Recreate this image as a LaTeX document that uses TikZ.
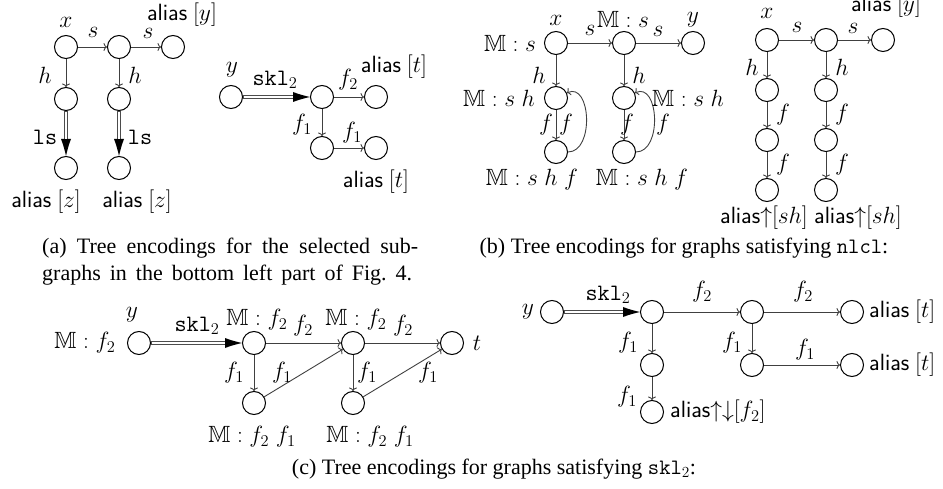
\RequirePackage{fix-cm}
\documentclass[tikz,border=0pt]{standalone}
\usepackage{amssymb}
\usepackage{fontspec}
\setmainfont{Liberation Serif}
\usetikzlibrary{arrows.meta}
\newcommand{\al}{\textsf{alias}}
\begin{document}
\begin{tikzpicture}[x=1pt,y=1pt,
  font=\fontsize{23.5}{27}\selectfont,
  st/.style={circle,draw,line width=1pt,minimum size=23pt,inner sep=0pt},
  lb/.style={inner sep=0pt},
  captxt/.style={inner sep=0pt,font=\fontsize{22}{26}\selectfont},
  ed/.style={line width=0.9pt,draw=black!75,-{To[length=3.5pt,width=8pt]}},
  dblout/.style={line width=4.4pt,draw=black!70,-{Latex[length=17pt,width=10pt,line width=0pt,black]}},
  dblin/.style={line width=2.2pt,draw=white,shorten >=17pt,shorten <=0.8pt}]
\useasboundingbox (0,0) rectangle (943,-489);
% ---------- (a) left tree
\node[st] (a1) at (66,-47) {};
\node[st] (a2) at (119,-47) {};
\node[st] (a3) at (173,-47) {};
\node[st] (a4) at (66,-99) {};
\node[st] (a5) at (119,-99) {};
\node[st] (a6) at (66,-168) {};
\node[st] (a7) at (119,-168) {};
\draw[ed] (a1) -- (a2);
\draw[ed] (a2) -- (a3);
\draw[ed] (a1) -- (a4);
\draw[ed] (a2) -- (a5);
\draw[dblout] (a4) -- (a6); \draw[dblin] (a4) -- (a6);
\draw[dblout] (a5) -- (a7); \draw[dblin] (a5) -- (a7);
\node[lb] (la1) at (66,-22) {$x$};
\node[lb] (la2) at (93,-32) {$s$};
\node[lb] (la3) at (148,-33) {$s$};
\node[lb] (la4) at (182,-15) {\al\ $[y]$};
\node[lb] (la5) at (45,-75) {$h$};
\node[lb] (la6) at (135,-75) {$h$};
\node[lb] (la7) at (45,-137) {\texttt{ls}};
\node[lb] (la8) at (140,-137) {\texttt{ls}};
\node[lb] (la9) at (46,-202) {\al\ $[z]$};
\node[lb] (la10) at (137,-202) {\al\ $[z]$};
% ---------- (a) right tree
\node[st] (b1) at (231,-97) {};
\node[st] (b2) at (322,-97) {};
\node[st] (b3) at (376,-97) {};
\node[st] (b4) at (322,-148) {};
\node[st] (b5) at (376,-148) {};
\draw[dblout] (b1) -- (b2); \draw[dblin] (b1) -- (b2);
\draw[ed] (b2) -- (b3);
\draw[ed] (b2) -- (b4);
\draw[ed] (b4) -- (b5);
\node[lb] (lb1) at (232,-70) {$y$};
\node[lb] (lb2) at (275,-80) {\texttt{skl}$_2$};
\node[lb] (lb3) at (348,-80) {$f_2$};
\node[lb] (lb4) at (394,-67) {\al\ $[t]$};
\node[lb] (lb5) at (302,-125) {$f_1$};
\node[lb] (lb6) at (352,-133) {$f_1$};
\node[lb] (lb7) at (376,-182) {\al\ $[t]$};
% ---------- (b) left tree
\node[st] (c1) at (556,-43) {};
\node[st] (c2) at (624,-43) {};
\node[st] (c3) at (693,-43) {};
\node[st] (c4) at (556,-98) {};
\node[st] (c5) at (624,-98) {};
\node[st] (c6) at (556,-152) {};
\node[st] (c7) at (624,-152) {};
\draw[ed] (c1) -- (c2);
\draw[ed] (c2) -- (c3);
\draw[ed] (c1) -- (c4);
\draw[ed] (c2) -- (c5);
\draw[ed] (c4) -- (c6);
\draw[ed] (c5) -- (c7);
\draw[ed] (c6.east) to[out=0,in=25,looseness=1.15] (c4.25);
\draw[ed] (c7.east) to[out=0,in=25,looseness=1.15] (c5.25);
\node[lb] (lc1) at (556,-20) {$x$};
\node[lb] (lc2) at (510,-43) {$\mathbb{M} : s$};
\node[lb] (lc3) at (623,-19) {$\mathbb{M} : s$};
\node[lb] (lc4) at (590,-30) {$s$};
\node[lb] (lc5) at (658,-31) {$s$};
\node[lb] (lc6) at (693,-20) {$y$};
\node[lb] (lc7) at (539,-75) {$h$};
\node[lb] (lc8) at (639,-75) {$h$};
\node[lb] (lc9) at (499,-98) {$\mathbb{M} : s\;h$};
\node[lb] (lc10) at (688,-98) {$\mathbb{M} : s\;h$};
\node[lb] (lc11) at (546,-125) {$f$};
\node[lb] (lc12) at (566,-125) {$f$};
\node[lb] (lc13) at (627,-125) {$f$};
\node[lb] (lc14) at (663,-125) {$f$};
\node[lb] (lc15) at (532,-180) {$\mathbb{M} : s\;h\;f$};
\node[lb] (lc16) at (642,-180) {$\mathbb{M} : s\;h\;f$};
% ---------- (b) right tree
\node[st] (d1) at (767,-40) {};
\node[st] (d2) at (826,-40) {};
\node[st] (d3) at (883,-40) {};
\node[st] (d4) at (767,-90) {};
\node[st] (d5) at (826,-90) {};
\node[st] (d6) at (767,-140) {};
\node[st] (d7) at (826,-140) {};
\node[st] (d8) at (767,-190) {};
\node[st] (d9) at (826,-190) {};
\draw[ed] (d1) -- (d2);
\draw[ed] (d2) -- (d3);
\draw[ed] (d1) -- (d4);
\draw[ed] (d2) -- (d5);
\draw[ed] (d4) -- (d6);
\draw[ed] (d5) -- (d7);
\draw[ed] (d6) -- (d8);
\draw[ed] (d7) -- (d9);
\node[lb] (ld1) at (767,-13) {$x$};
\node[lb] (ld2) at (797,-27) {$s$};
\node[lb] (ld3) at (853,-28) {$s$};
\node[lb] (ld4) at (886,-6) {\al\ $[y]$};
\node[lb] (ld5) at (752,-67) {$h$};
\node[lb] (ld6) at (842,-67) {$h$};
\node[lb] (ld7) at (783,-115) {$f$};
\node[lb] (ld8) at (842,-115) {$f$};
\node[lb] (ld9) at (783,-165) {$f$};
\node[lb] (ld10) at (842,-165) {$f$};
\node[lb] (ld11) at (764,-218) {\al${\uparrow}[sh]$};
\node[lb] (ld12) at (858,-218) {\al${\uparrow}[sh]$};
% ---------- (c) left graph
\node[st] (e1) at (139,-343) {};
\node[st] (e2) at (254,-343) {};
\node[st] (e3) at (353,-343) {};
\node[st] (e4) at (452,-343) {};
\node[st] (e5) at (254,-403) {};
\node[st] (e6) at (353,-403) {};
\draw[dblout] (e1) -- (e2); \draw[dblin] (e1) -- (e2);
\draw[ed] (e2) -- (e3);
\draw[ed] (e3) -- (e4);
\draw[ed] (e2) -- (e5);
\draw[ed] (e3) -- (e6);
\draw[ed] (e5) -- (e3);
\draw[ed] (e6) -- (e4);
\node[lb] (le1) at (132,-315) {$y$};
\node[lb] (le2) at (85,-343) {$\mathbb{M} : f_2$};
\node[lb] (le3) at (197,-326) {\texttt{skl}$_2$};
\node[lb] (le4) at (257,-320) {$\mathbb{M} : f_2$};
\node[lb] (le5) at (303,-326) {$f_2$};
\node[lb] (le6) at (356,-320) {$\mathbb{M} : f_2$};
\node[lb] (le7) at (403,-326) {$f_2$};
\node[lb] (le8) at (477,-343) {$t$};
\node[lb] (le9) at (234,-373) {$f_1$};
\node[lb] (le10) at (282,-373) {$f_1$};
\node[lb] (le11) at (367,-373) {$f_1$};
\node[lb] (le12) at (428,-373) {$f_1$};
\node[lb] (le13) at (252,-437) {$\mathbb{M} : f_2\;f_1$};
\node[lb] (le14) at (370,-437) {$\mathbb{M} : f_2\;f_1$};
% ---------- (c) right tree
\node[st] (g1) at (552,-312) {};
\node[st] (g2) at (652,-312) {};
\node[st] (g3) at (752,-312) {};
\node[st] (g4) at (852,-312) {};
\node[st] (g5) at (652,-365) {};
\node[st] (g6) at (652,-412) {};
\node[st] (g7) at (752,-365) {};
\node[st] (g8) at (852,-365) {};
\draw[dblout] (g1) -- (g2); \draw[dblin] (g1) -- (g2);
\draw[ed] (g2) -- (g3);
\draw[ed] (g3) -- (g4);
\draw[ed] (g2) -- (g5);
\draw[ed] (g5) -- (g6);
\draw[ed] (g3) -- (g7);
\draw[ed] (g7) -- (g8);
\node[lb] (lg1) at (528,-312) {$y$};
\node[lb] (lg2) at (608,-295) {\texttt{skl}$_2$};
\node[lb] (lg3) at (702,-292) {$f_2$};
\node[lb] (lg4) at (803,-292) {$f_2$};
\node[lb,anchor=west] (lg5) at (869,-312) {\al\ $[t]$};
\node[lb] (lg6) at (628,-343) {$f_1$};
\node[lb] (lg7) at (627,-397) {$f_1$};
\node[lb] (lg8) at (732,-343) {$f_1$};
\node[lb] (lg9) at (805,-350) {$f_1$};
\node[lb,anchor=west] (lg10) at (869,-365) {\al\ $[t]$};
\node[lb,anchor=west] (lg11) at (670,-412) {\al${\uparrow}{\downarrow}[f_2]$};
% ---------- captions
\node[captxt,anchor=base west] (capa1) at (42,-254) {\makebox[376pt][s]{(a) Tree encodings for the selected sub-}};
\node[captxt,anchor=base west] (capa2) at (42,-280) {\makebox[370pt][s]{graphs in the bottom left part of Fig.\ 4.}};
\node[captxt,anchor=base] (capb) at (684,-254) {(b) Tree encodings for graphs satisfying \texttt{nlcl}:};
\node[captxt,anchor=base] (capc) at (494,-474) {(c) Tree encodings for graphs satisfying \texttt{skl}$_2$:};
\end{tikzpicture}
\end{document}
